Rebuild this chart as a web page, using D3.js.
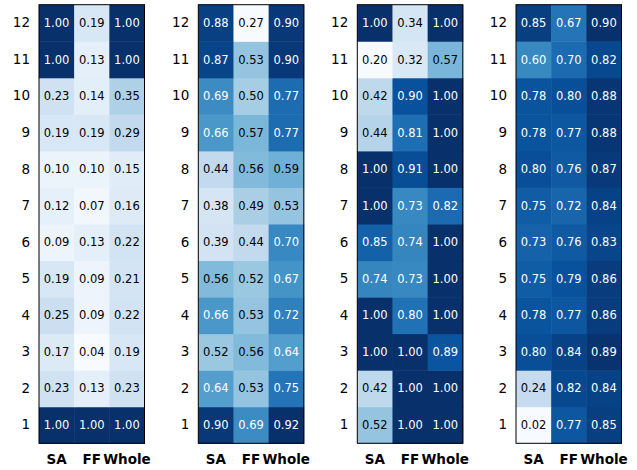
<!DOCTYPE html>
<html>
<head>
<meta charset="utf-8">
<script src="https://cdn.jsdelivr.net/npm/d3@7"></script>
<style>
  html, body { margin: 0; padding: 0; background: #fff; }
  svg { display: block; }
  text { font-family: "DejaVu Sans", sans-serif; }
</style>
</head>
<body>
<svg id="chart" width="637" height="470"></svg>
<script>
// ---- data ----
const columns = ["SA", "FF", "Whole"];
const rowLabels = [1, 2, 3, 4, 5, 6, 7, 8, 9, 10, 11, 12];
// each panel: rows listed from 1 (bottom) to 12 (top), values [SA, FF, Whole]
const panel1 = [
  [1.00, 1.00, 1.00],
  [0.23, 0.13, 0.23],
  [0.17, 0.04, 0.19],
  [0.25, 0.09, 0.22],
  [0.19, 0.09, 0.21],
  [0.09, 0.13, 0.22],
  [0.12, 0.07, 0.16],
  [0.10, 0.10, 0.15],
  [0.19, 0.19, 0.29],
  [0.23, 0.14, 0.35],
  [1.00, 0.13, 1.00],
  [1.00, 0.19, 1.00]
];
const panel2 = [
  [0.90, 0.69, 0.92],
  [0.64, 0.53, 0.75],
  [0.52, 0.56, 0.64],
  [0.66, 0.53, 0.72],
  [0.56, 0.52, 0.67],
  [0.39, 0.44, 0.70],
  [0.38, 0.49, 0.53],
  [0.44, 0.56, 0.59],
  [0.66, 0.57, 0.77],
  [0.69, 0.50, 0.77],
  [0.87, 0.53, 0.90],
  [0.88, 0.27, 0.90]
];
const panel3 = [
  [0.52, 1.00, 1.00],
  [0.42, 1.00, 1.00],
  [1.00, 1.00, 0.89],
  [1.00, 0.80, 1.00],
  [0.74, 0.73, 1.00],
  [0.85, 0.74, 1.00],
  [1.00, 0.73, 0.82],
  [1.00, 0.91, 1.00],
  [0.44, 0.81, 1.00],
  [0.42, 0.90, 1.00],
  [0.20, 0.32, 0.57],
  [1.00, 0.34, 1.00]
];
const panel4 = [
  [0.02, 0.77, 0.85],
  [0.24, 0.82, 0.84],
  [0.80, 0.84, 0.89],
  [0.78, 0.77, 0.86],
  [0.75, 0.79, 0.86],
  [0.73, 0.76, 0.83],
  [0.75, 0.72, 0.84],
  [0.80, 0.76, 0.87],
  [0.78, 0.77, 0.88],
  [0.78, 0.80, 0.88],
  [0.60, 0.70, 0.82],
  [0.85, 0.67, 0.90]
];
const panels = [panel1, panel2, panel3, panel4];

// ---- layout ----
const panelLefts = [39, 198.3, 357.3, 516];
const panelW = 105.5;
const plotTop = 4.7, plotBottom = 443.3;

// matplotlib "Blues"
const bluesStops = ["#f7fbff", "#deebf7", "#c6dbef", "#9ecae1", "#6baed6",
                    "#4292c6", "#2171b5", "#08519c", "#08306b"];
const blues = d3.piecewise(d3.interpolateRgb, bluesStops);

const svg = d3.select("#chart");

panels.forEach((data, pi) => {
  const x0 = panelLefts[pi];
  const x = d3.scaleBand().domain(columns).range([x0, x0 + panelW]);
  const y = d3.scaleBand().domain(rowLabels).range([plotBottom, plotTop]);
  const flat = data.flat();
  const norm = d3.scaleLinear().domain([d3.min(flat), d3.max(flat)]).range([0, 1]).clamp(true);

  const cells = [];
  data.forEach((row, ri) => row.forEach((v, ci) => cells.push({r: rowLabels[ri], c: columns[ci], v})));

  const g = svg.append("g");
  g.selectAll("rect.cell").data(cells).join("rect")
    .attr("class", "cell")
    .attr("x", d => x(d.c))
    .attr("y", d => y(d.r))
    .attr("width", x.bandwidth() + 0.5)
    .attr("height", y.bandwidth() + 0.5)
    .attr("fill", d => blues(norm(d.v)));

  g.selectAll("text.val").data(cells).join("text")
    .attr("class", "val")
    .attr("x", d => x(d.c) + x.bandwidth() / 2)
    .attr("y", d => y(d.r) + y.bandwidth() / 2)
    .attr("text-anchor", "middle")
    .attr("dominant-baseline", "central")
    .attr("font-size", "11.5px")
    .attr("fill", d => norm(d.v) > 0.5 ? "#fff" : "#000")
    .text(d => d.v.toFixed(2));

  // frame
  g.append("rect")
    .attr("x", x0).attr("y", plotTop)
    .attr("width", panelW).attr("height", plotBottom - plotTop)
    .attr("fill", "none").attr("stroke", "#000").attr("stroke-width", 1);

  // row labels
  const yAxis = d3.axisLeft(y).tickSize(0).tickPadding(9);
  const ya = g.append("g").attr("transform", `translate(${x0},0)`).call(yAxis);
  ya.select(".domain").remove();
  ya.selectAll("text").attr("font-size", "13.5px").attr("fill", "#000")
    .attr("font-family", "DejaVu Sans, sans-serif");

  // column labels
  const xAxis = d3.axisBottom(x).tickSize(0).tickPadding(11);
  const xa = g.append("g").attr("transform", `translate(0,${plotBottom})`).call(xAxis);
  xa.select(".domain").remove();
  xa.selectAll("text").attr("font-size", "13.5px").attr("font-weight", "bold").attr("fill", "#000")
    .attr("font-family", "DejaVu Sans, sans-serif");
});
</script>
</body>
</html>
